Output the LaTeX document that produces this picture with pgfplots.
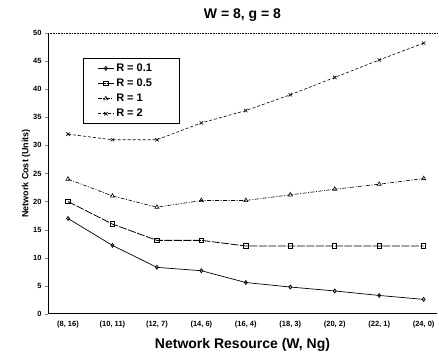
\documentclass[border=0pt]{standalone}
\usepackage{fontspec}
\setmainfont{Liberation Sans}
\usepackage{pgfplots}
\pgfplotsset{compat=1.18}
\begin{document}
\begin{tikzpicture}[x=1pt,y=1pt]
\path[use as bounding box] (0,0) rectangle (439,355);
\begin{axis}[
  at={(48pt,41pt)}, anchor=south west,
  scale only axis, width=389pt, height=281pt,
  xmin=-0.45, xmax=8.3, ymin=0, ymax=50,
  axis x line=bottom, axis y line=left,
  axis line style={-, line width=1pt},
  xtick={0,...,8},
  xticklabels={{(8, 16)},{(10, 11)},{(12, 7)},{(14, 6)},{(16, 4)},{(18, 3)},{(20, 2)},{(22, 1)},{(24, 0)}},
  major x tick style={draw=none},
  extra x ticks={0.5,1.5,...,7.5},
  extra x tick labels={},
  extra x tick style={major tick length=3pt, tick align=outside, tick style={draw=black}},
  ytick={0,5,...,50},
  tick align=outside, major tick length=3pt,
  x tick label style={font=\bfseries\fontsize{7.5}{8}\selectfont, yshift=-1pt},
  y tick label style={font=\bfseries\fontsize{7.5}{8}\selectfont},
  /pgf/number format/assume math mode=true,
  title={W = 8, g = 8}, title style={font=\bfseries\fontsize{14}{16}\selectfont, yshift=2pt},
  xlabel={Network Resource (W, Ng)}, xlabel style={font=\bfseries\fontsize{14}{16}\selectfont, yshift=3pt},
  ylabel={Network Cost (Units)}, ylabel style={font=\bfseries\fontsize{9}{10}\selectfont, yshift=-4pt},
  legend style={at={(0.09,0.91)}, anchor=north west, draw=black, line width=0.9pt,
    font=\bfseries\fontsize{11}{12}\selectfont, row sep=2pt, inner ysep=3pt},
  legend image code/.code={\path (0pt,0pt); \draw[#1] (11pt,0pt) -- (27pt,0pt); \draw[#1, mark repeat=2, mark phase=2] plot coordinates {(11pt,0pt) (19pt,0pt) (27pt,0pt)};},
  legend cell align=left,
  clip=false,
]
\draw[densely dotted, line width=0.6pt] (axis cs:-0.45,50) -- (axis cs:8.3,50);
\addplot[black, line width=0.7pt, mark=diamond, mark size=2pt, mark options={solid}] coordinates {
(0,17) (1,12.2) (2,8.3) (3,7.7) (4,5.6) (5,4.8) (6,4.1) (7,3.3) (8,2.6)};
\addplot[black, line width=0.8pt, dash pattern=on 8pt off 1.5pt, mark=square, mark size=2.2pt, mark options={solid, line width=1pt}] coordinates {
(0,20) (1,16) (2,13.1) (3,13.1) (4,12.1) (5,12.1) (6,12.1) (7,12.1) (8,12.1)};
\addplot[black, line width=0.6pt, dash pattern=on 4pt off 1.5pt on 1pt off 1.5pt, mark=triangle, mark size=2.4pt, mark options={solid}] coordinates {
(0,24) (1,21) (2,19) (3,20.2) (4,20.2) (5,21.2) (6,22.2) (7,23.1) (8,24.1)};
\addplot[black, line width=0.6pt, densely dashed, mark=x, mark size=2.4pt, mark options={solid}] coordinates {
(0,32) (1,31) (2,31) (3,34) (4,36.2) (5,39) (6,42.1) (7,45.2) (8,48.2)};
\legend{R = 0.1\rule{22pt}{0pt}, R = 0.5, R = 1, R = 2}
\end{axis}
\end{tikzpicture}
\end{document}
